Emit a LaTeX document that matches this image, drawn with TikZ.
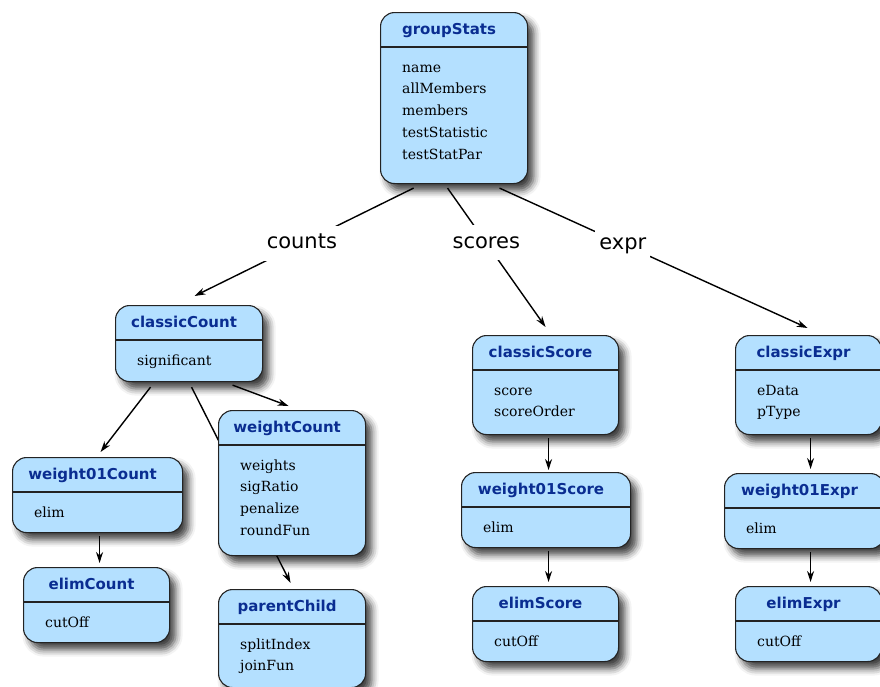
\documentclass[tikz,border=0pt]{standalone}
\usepackage{fontspec}
\setmainfont{DejaVu Serif}
\setsansfont{DejaVu Sans}
\usetikzlibrary{arrows.meta,shadows.blur}

\definecolor{boxblue}{RGB}{180,224,255}
\definecolor{titleblue}{RGB}{10,45,145}
\definecolor{boxline}{RGB}{35,35,35}

\tikzset{
  classbox/.style={draw=boxline, line width=1.1pt, fill=boxblue, rounded corners=14pt, inner sep=0pt,
    blur shadow={shadow xshift=6pt, shadow yshift=-7pt, shadow blur radius=7pt, shadow opacity=75}},
  classline/.style={draw=boxline, line width=1.1pt},
  classtitle/.style={font=\sffamily\bfseries\fontsize{15}{18}\selectfont, text=titleblue, inner sep=0pt},
  classitem/.style={font=\fontsize{14}{17}\selectfont, inner sep=0pt},
  link/.style={line width=1.4pt, -{Stealth[length=11pt,width=7pt]}},
  linklabel/.style={font=\sffamily\fontsize{21}{24}\selectfont, fill=white,
    inner xsep=4pt, inner ysep=8pt, text height=15pt, text depth=4pt},
}

% #1 name, #2 left, #3 top, #4 width, #5 height, #6 title, #7 items
\newcommand{\umlclass}[7]{%
  \node[classbox, minimum width=#4pt, minimum height=#5pt, anchor=north west] (#1) at (#2,#3) {};
  \draw[classline] ([yshift=-35pt]#1.north west) -- ([yshift=-35pt]#1.north east);
  \node[classtitle, anchor=base] (#1-title) at ([xshift=-5pt,yshift=-22pt]#1.north) {#6};
  \foreach \txt [count=\k] in {#7}
    \node[classitem, anchor=base west] (#1-\k) at ([xshift=22pt,yshift={-60pt-(\k-1)*21.8pt}]#1.north west) {\txt};
}

\begin{document}
\begin{tikzpicture}[x=1pt,y=-1pt]  % ------ groupStats classes --------------
    \useasboundingbox (0,0) rectangle (880,686);

    \umlclass{groupStats}{380}{12}{147}{171}{groupStats}{name,allMembers,members,testStatistic,testStatPar}
    \umlclass{classicCount}{115}{305}{147}{76}{classicCount}{significant}
    \umlclass{parentChild}{218}{589}{147}{98}{parentChild}{splitIndex,joinFun}
    \umlclass{weight01Count}{12}{457}{170}{75}{weight01Count}{elim}
    \umlclass{elimCount}{23}{567}{146}{75}{elimCount}{cutOff}
    \umlclass{classicScore}{472}{335}{146}{99}{classicScore}{score,scoreOrder}
    \umlclass{weight01Score}{461}{472}{169}{75}{weight01Score}{elim}
    \umlclass{elimScore}{472}{586}{146}{75}{elimScore}{cutOff}
    \umlclass{classicExpr}{735}{335}{146}{99}{classicExpr}{eData,pType}
    \umlclass{weight01Expr}{724}{473}{160}{75}{weight01Expr}{elim}
    \umlclass{elimExpr}{735}{586}{146}{75}{elimExpr}{cutOff}

    % goes behind weightCount
    \draw[link] ([xshift=2.5pt,yshift=-5pt]classicCount.south) -- ([xshift=-1.5pt,yshift=6pt]parentChild.north);
    \umlclass{weightCount}{218}{410}{147}{145}{weightCount}{weights,sigRatio,penalize,roundFun}

    % ------ inheritance --------------
    \draw[link] ([xshift=-40.5pt,yshift=-4pt]groupStats.south) -- node[linklabel,pos=.51] {counts} ([xshift=5.5pt,yshift=9pt]classicCount.north);
    \draw[link] ([xshift=-6.5pt,yshift=-4pt]groupStats.south) -- node[linklabel,pos=.395] {scores} ([yshift=8pt]classicScore.north);
    \draw[link] ([xshift=45.5pt,yshift=-4pt]groupStats.south) -- node[linklabel,pos=.40] {expr} ([xshift=-1pt,yshift=7pt]classicExpr.north);

    \draw[link] ([xshift=-38.5pt,yshift=-5pt]classicCount.south) -- ([xshift=3pt,yshift=5pt]weight01Count.north);
    \draw[link] ([xshift=43.5pt,yshift=-3pt]classicCount.south) -- ([xshift=-3.5pt,yshift=4pt]weightCount.north);
    \draw[link] ([xshift=2pt,yshift=-3pt]weight01Count.south) -- ([xshift=3pt,yshift=4pt]elimCount.north);

    \draw[link] ([xshift=3pt,yshift=-3pt]classicScore.south) -- ([xshift=2.5pt,yshift=2pt]weight01Score.north);
    \draw[link] ([xshift=2.5pt,yshift=-3pt]weight01Score.south) -- ([xshift=3pt,yshift=4pt]elimScore.north);

    \draw[link] ([xshift=2pt,yshift=-3pt]classicExpr.south) -- ([xshift=6pt,yshift=4pt]weight01Expr.north);
    \draw[link] ([xshift=6pt,yshift=-3pt]weight01Expr.south) -- ([xshift=2pt,yshift=4pt]elimExpr.north);
\end{tikzpicture}
\end{document}
